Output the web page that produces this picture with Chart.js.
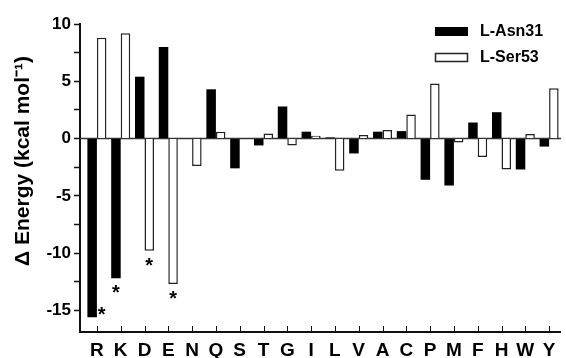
<!DOCTYPE html>
<html>
<head>
<meta charset="utf-8">
<script src="https://cdn.jsdelivr.net/npm/chart.js@4"></script>
<style>
  html, body { margin: 0; padding: 0; background: #fff; }
  #wrap { width: 566px; height: 358px; position: relative; }
</style>
</head>
<body>
<div id="wrap"><canvas id="myChart" width="566" height="358"></canvas></div>
<script>
const categories = ['R', 'K', 'D', 'E', 'N', 'Q', 'S', 'T', 'G', 'I', 'L', 'V', 'A', 'C', 'P', 'M', 'F', 'H', 'W', 'Y'];
const asn31 = [-15.6, -12.2, 5.4, 8.0, 0.0, 4.3, -2.6, -0.6, 2.8, 0.6, 0.1, -1.3, 0.6, 0.65, -3.6, -4.1, 1.4, 2.3, -2.7, -0.7];
const ser53 = [8.8, 9.2, -9.8, -12.7, -2.4, 0.6, 0.0, 0.45, -0.6, 0.25, -2.8, 0.3, 0.75, 2.1, 4.8, -0.35, -1.6, -2.7, 0.4, 4.4];
const seriesNames = ['L-Asn31', 'L-Ser53'];
const yTickValues = [-15, -12.5, -10, -7.5, -5, -2.5, 0, 2.5, 5, 7.5, 10];
// significance stars: category, dataset index, value where the star sits
const stars = [['R', 1, -15.0], ['K', 0, -13.1], ['D', 1, -10.7], ['E', 1, -13.6]];
const yTitle = 'Δ Energy (kcal mol⁻¹)';

Chart.defaults.color = '#000';
Chart.defaults.font.family = '"Liberation Sans", Arial, sans-serif';
Chart.defaults.font.weight = 'bold';

const extras = {
    id: 'extras',
    beforeDatasetsDraw(chart) {
        const ctx = chart.ctx;
        const y = chart.scales.y;
        const area = chart.chartArea;
        // zero line
        ctx.save();
        ctx.strokeStyle = '#333';
        ctx.lineWidth = 1.5;
        ctx.beginPath();
        ctx.moveTo(y.right, y.getPixelForValue(0));
        ctx.lineTo(area.right, y.getPixelForValue(0));
        ctx.stroke();
        ctx.restore();
    },
    afterDraw(chart) {
        const ctx = chart.ctx;
        const x = chart.scales.x;
        const y = chart.scales.y;
        const area = chart.chartArea;
        ctx.save();
        // x axis line from y axis corner
        ctx.strokeStyle = '#111';
        ctx.lineWidth = 2;
        ctx.beginPath();
        ctx.moveTo(y.right - 1, area.bottom + 1);
        ctx.lineTo(area.right, area.bottom + 1);
        ctx.stroke();
        // inward x ticks
        ctx.lineWidth = 1;
        for (let i = 0; i < categories.length; i++) {
            const px = Math.round(x.getPixelForTick(i)) + 0.5;
            ctx.beginPath();
            ctx.moveTo(px, area.bottom);
            ctx.lineTo(px, area.bottom - 5);
            ctx.stroke();
        }
        // stars
        ctx.fillStyle = '#000';
        ctx.font = 'bold 20px "Liberation Sans", Arial, sans-serif';
        ctx.textAlign = 'center';
        ctx.textBaseline = 'middle';
        stars.forEach(([cat, ds, val]) => {
            const bar = chart.getDatasetMeta(ds).data[categories.indexOf(cat)];
            ctx.fillText('*', bar.x, y.getPixelForValue(val) + 5);
        });
        // y title
        ctx.save();
        ctx.translate(23, 161);
        ctx.rotate(-Math.PI / 2);
        ctx.font = 'bold 21px "Liberation Sans", Arial, sans-serif';
        ctx.fillText(yTitle, 0, 0);
        ctx.restore();
        // legend
        ctx.font = 'bold 16px "Liberation Sans", Arial, sans-serif';
        ctx.textAlign = 'left';
        chart.data.datasets.forEach((d, i) => {
            const top = 27 + i * 26;
            ctx.fillStyle = d.backgroundColor;
            ctx.fillRect(435, top, 33, 9);
            if (d.borderWidth) {
                ctx.strokeStyle = d.borderColor;
                ctx.lineWidth = 1.5;
                ctx.strokeRect(435.5, top + 0.5, 32, 8);
            }
            ctx.fillStyle = '#000';
            ctx.fillText(d.label, 480, top + 5);
        });
        ctx.restore();
    }
};

const ctx = document.getElementById('myChart').getContext('2d');
new Chart(ctx, {
    type: 'bar',
    data: {
        labels: categories,
        datasets: [
            {
                label: seriesNames[0],
                data: asn31,
                backgroundColor: '#000',
                borderWidth: 0,
                categoryPercentage: 0.8,
                barPercentage: 1.0
            },
            {
                label: seriesNames[1],
                data: ser53,
                backgroundColor: '#fff',
                borderColor: '#222',
                borderWidth: 1.5,
                categoryPercentage: 0.8,
                barPercentage: 1.0
            }
        ]
    },
    options: {
        responsive: false,
        animation: false,
        layout: { padding: { top: 24, right: 5, left: 0, bottom: 0 } },
        plugins: {
            legend: { display: false },
            tooltip: { enabled: false }
        },
        scales: {
            x: {
                grid: { display: false },
                border: { display: false },
                ticks: { font: { size: 19, weight: 'bold' }, padding: 0, maxRotation: 0, autoSkip: false },
                afterFit(s) { s.height = 27; }
            },
            y: {
                position: 'left',
                weight: 1,
                min: -16.8,
                max: 10,
                afterBuildTicks(s) { s.ticks = yTickValues.map(v => ({ value: v })); },
                grid: { drawOnChartArea: false, drawTicks: true, tickLength: 6, tickColor: '#111', tickWidth: 1.5 },
                border: { display: true, color: '#111', width: 2 },
                ticks: {
                    font: { size: 17, weight: 'bold' },
                    padding: 3,
                    callback: v => (v % 5 === 0 ? String(v) : '')
                },
                afterFit(s) { s.width = 80; }
            },
            yPad: {
                type: 'linear',
                position: 'left',
                weight: 0,
                grid: { display: false },
                border: { display: false },
                ticks: { display: false },
                afterFit(s) { s.width = 5; }
            }
        }
    },
    plugins: [extras]
});
</script>
</body>
</html>
